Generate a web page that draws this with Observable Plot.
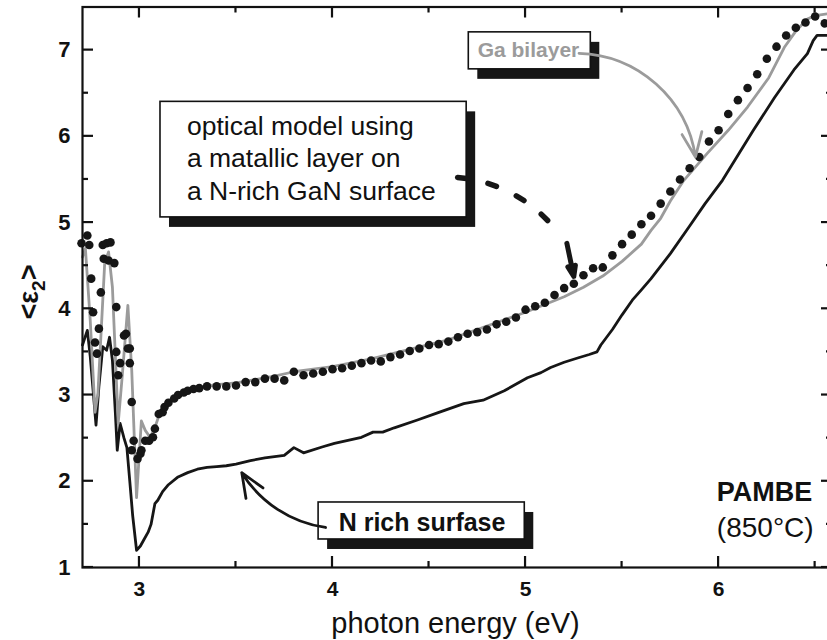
<!DOCTYPE html>
<html><head><meta charset="utf-8">
<script src="https://cdn.jsdelivr.net/npm/d3@7"></script>
<script src="https://cdn.jsdelivr.net/npm/@observablehq/plot@0.6"></script>
<style>
html,body{margin:0;padding:0;background:#fff;overflow:hidden;}
</style></head>
<body><div id="chart"></div>
<script>
// ---- data ----
const nRichX = [2.705,2.73,2.745,2.76,2.775,2.79,2.81,2.83,2.845,2.86,2.875,2.885,2.9,2.92,2.935,2.95,2.965,2.985,3.005,3.02,3.045,3.06,3.08,3.095,3.12,3.15,3.2,3.25,3.3,3.35,3.4,3.45,3.5,3.575,3.65,3.75,3.8,3.85,3.95,4.01,4.15,4.21,4.26,4.32,4.44,4.54,4.68,4.78,4.89,5.01,5.08,5.13,5.2,5.27,5.33,5.37,5.39,5.45,5.5,5.553,5.6,5.65,5.75,5.85,5.93,6.02,6.1,6.18,6.29,6.39,6.46,6.49,6.51,6.59];
const nRichY = [3.58,3.75,3.45,3.05,2.65,3.1,3.56,3.52,3.67,3.4,2.8,2.36,2.67,2.5,2.39,2.0,1.6,1.2,1.25,1.31,1.41,1.5,1.74,1.78,1.88,1.96,2.05,2.1,2.14,2.16,2.17,2.18,2.2,2.24,2.27,2.3,2.39,2.33,2.4,2.44,2.51,2.57,2.57,2.62,2.71,2.79,2.9,2.94,3.05,3.2,3.26,3.32,3.38,3.43,3.47,3.5,3.58,3.76,3.93,4.1,4.22,4.35,4.64,4.96,5.22,5.49,5.78,6.07,6.45,6.77,6.96,7.11,7.17,7.17];

const gaX = [2.705,2.72,2.745,2.77,2.785,2.82,2.84,2.86,2.89,2.91,2.94,2.96,2.985,3.01,3.03,3.055,3.08,3.105,3.15,3.2,3.3,3.4,3.5,3.6,3.7,3.8,3.9,4.0,4.2,4.4,4.6,4.8,5.0,5.1,5.2,5.3,5.4,5.5,5.6,5.65,5.7,5.75,5.82,5.94,6.05,6.15,6.26,6.34,6.4,6.46,6.5,6.59];
const gaY = [4.6,4.7,3.87,2.8,3.02,4.53,4.66,4.25,2.67,3.2,4.04,3.29,1.81,2.7,2.59,2.51,2.62,2.79,2.92,3.01,3.09,3.12,3.14,3.18,3.22,3.27,3.3,3.33,3.42,3.53,3.64,3.8,3.96,4.05,4.14,4.25,4.38,4.55,4.75,4.91,5.05,5.25,5.49,5.8,6.07,6.34,6.68,7.03,7.22,7.36,7.4,7.43];

const modelX = [2.70,2.73,2.74,2.75,2.76,2.77,2.78,2.79,2.80,2.81,2.815,2.83,2.84,2.85,2.87,2.88,2.88,2.89,2.90,2.92,2.93,2.94,2.95,2.95,2.96,2.96,2.97,2.99,3.005,3.01,3.03,3.05,3.07,3.08,3.10,3.12,3.13,3.15,3.18,3.20,3.23,3.25,3.28,3.31,3.35,3.40,3.45,3.50,3.55,3.60,3.65,3.70,3.75,3.80,3.85,3.90,3.95,4.00,4.05,4.10,4.15,4.20,4.25,4.30,4.35,4.40,4.45,4.50,4.55,4.60,4.65,4.70,4.75,4.80,4.85,4.90,4.95,5.00,5.05,5.10,5.15,5.20,5.25,5.30,5.35,5.40,5.45,5.50,5.55,5.60,5.65,5.70,5.75,5.80,5.85,5.90,5.95,6.00,6.05,6.10,6.15,6.20,6.25,6.30,6.35,6.40,6.45,6.50,6.55];
const modelY = [4.76,4.85,4.74,4.35,3.96,3.61,3.48,3.77,4.19,4.74,4.58,4.76,4.56,4.77,4.53,4.02,3.50,3.23,3.37,3.69,3.71,3.54,3.54,3.37,2.92,2.36,2.47,2.26,2.32,2.36,2.47,2.47,2.51,2.61,2.78,2.80,2.86,2.91,2.96,3.00,3.03,3.05,3.07,3.08,3.10,3.10,3.10,3.11,3.15,3.15,3.19,3.19,3.17,3.27,3.23,3.25,3.27,3.30,3.31,3.34,3.37,3.40,3.39,3.44,3.47,3.51,3.54,3.58,3.59,3.62,3.67,3.71,3.73,3.76,3.82,3.85,3.90,3.99,4.03,4.07,4.16,4.24,4.29,4.39,4.47,4.48,4.62,4.75,4.86,4.98,5.08,5.22,5.36,5.50,5.63,5.76,5.94,6.07,6.26,6.42,6.56,6.72,6.90,7.04,7.17,7.26,7.32,7.39,7.31];

const xMajor = [3, 4, 5, 6];
const xMinor = [3.5, 4.5, 5.5, 6.5];
const yMajor = [1, 2, 3, 4, 5, 6, 7];
const yMinor = [1.5, 2.5, 3.5, 4.5, 5.5, 6.5];
const xDomain = [2.705, 6.59];
const yDomain = [1, 7.5];

const xLabel = "photon energy (eV)";
const modelText = "optical model using\na matallic layer on\na N-rich GaN surface";
const gaText = "Ga bilayer";
const nText = "N rich surfase";
const pambeText = "PAMBE";
const tempText = "(850°C)";

// annotation layout (data coordinates)
const boxes = [
  {x1: 3.109, x2: 4.695, y1: 5.06, y2: 6.40},
  {x1: 4.706, x2: 5.338, y1: 6.777, y2: 7.206},
  {x1: 3.928, x2: 4.996, y1: 1.325, y2: 1.754}
];

const zip = (xs, ys) => xs.map((x, i) => ({x, y: ys[i]}));
const nRich = zip(nRichX, nRichY);
const gaBilayer = zip(gaX, gaY);
const model = zip(modelX, modelY);

const W = 827, H = 640, mL = 82, mR = -5, mT = 6.5, mB = 73;
const ink = "#161616";
const grey = "#9b9b9b";
const MAJ = 11, MIN = 6;

const chart = Plot.plot({
  width: W, height: H,
  marginLeft: mL, marginRight: mR, marginTop: mT, marginBottom: mB,
  x: {domain: xDomain},
  y: {domain: yDomain},
  style: {fontFamily: "'Liberation Sans', Arial, sans-serif", color: "#111", background: "#fff"},
  marks: [
    Plot.axisX({ticks: xMajor, tickSize: 0, tickPadding: 14, fontSize: 21, fontWeight: "bold", label: null, tickFormat: d => String(d)}),
    Plot.axisY({ticks: yMajor, tickSize: 0, tickPadding: 12, fontSize: 22, fontWeight: "bold", label: null, tickFormat: d => String(d)}),
    Plot.line(nRich, {x: "x", y: "y", stroke: ink, strokeWidth: 2.8, strokeLinejoin: "round"}),
    Plot.line(gaBilayer, {x: "x", y: "y", stroke: grey, strokeWidth: 2.8, strokeLinejoin: "round"}),
    Plot.dot(model, {x: "x", y: "y", r: 4.3, fill: ink, stroke: "none"}),
    Plot.frame({stroke: "#111", strokeWidth: 2.2}),
    Plot.text([xLabel], {frameAnchor: "bottom", lineAnchor: "bottom", dy: 65, dx: -2, fontSize: 29, fill: "#111"}),
    // annotation boxes with shadows
    Plot.rect(boxes, {x1: "x1", x2: "x2", y1: "y1", y2: "y2", fill: ink, dx: 9, dy: 10}),
    Plot.rect(boxes, {x1: "x1", x2: "x2", y1: "y1", y2: "y2", fill: "#fff", stroke: "#111", strokeWidth: 1.6}),
    Plot.text([modelText], {x: 3.246, y: 5.258, text: d => d, textAnchor: "start", lineAnchor: "bottom", lineHeight: 1.24, fontSize: 26.5, fill: "#111"}),
    Plot.text([gaText], {x: 4.752, y: 6.917, text: d => d, textAnchor: "start", lineAnchor: "bottom", fontSize: 21, fontWeight: "bold", fill: grey}),
    Plot.text([nText], {x: 4.032, y: 1.418, text: d => d, textAnchor: "start", lineAnchor: "bottom", fontSize: 25, fontWeight: "bold", fill: "#111"}),
    Plot.text([pambeText], {x: 5.991, y: 1.766, text: d => d, textAnchor: "start", lineAnchor: "bottom", fontSize: 27, fontWeight: "bold", fill: "#111"}),
    Plot.text([tempText], {x: 5.991, y: 1.348, text: d => d, textAnchor: "start", lineAnchor: "bottom", fontSize: 28, fill: "#111"}),
    // arrows
    Plot.arrow([0], {x1: 5.277, y1: 6.963, x2: 5.88, y2: 5.76, bend: 40, stroke: grey, strokeWidth: 2.8, headLength: 14, headAngle: 45}),
    Plot.arrow([0], {x1: 3.964, y1: 1.464, x2: 3.53, y2: 2.10, bend: 25, stroke: ink, strokeWidth: 2.8, headLength: 14, headAngle: 45}),
    Plot.arrow([0], {x1: 4.648, y1: 5.524, x2: 5.182, y2: 4.84, bend: 25, stroke: ink, strokeWidth: 5.5, strokeDasharray: "9 22", headLength: 0, strokeLinecap: "round"}),
    Plot.arrow([0], {x1: 5.214, y1: 4.759, x2: 5.25, y2: 4.376, stroke: ink, strokeWidth: 5, headLength: 16, headAngle: 40})
  ]
});

document.getElementById("chart").appendChild(chart);

const svgEl = chart.tagName.toLowerCase() === "svg" ? chart : chart.querySelector("svg");
const svg = d3.select(svgEl);
const sx = chart.scale("x"), sy = chart.scale("y");
const X = v => sx.apply(v), Y = v => sy.apply(v);
const xl = X(xDomain[0]), xr = X(xDomain[1]), yb = Y(yDomain[0]), yt = Y(yDomain[1]);

// inward ticks on all four sides, positioned through Plot's scales
const tg = svg.append("g").attr("stroke", "#111").attr("stroke-width", 2.2);
const addX = (vals, len) => vals.forEach(v => {
  tg.append("line").attr("x1", X(v)).attr("x2", X(v)).attr("y1", yb).attr("y2", yb - len);
  tg.append("line").attr("x1", X(v)).attr("x2", X(v)).attr("y1", yt).attr("y2", yt + len);
});
const addY = (vals, len) => vals.forEach(v => {
  tg.append("line").attr("y1", Y(v)).attr("y2", Y(v)).attr("x1", xl).attr("x2", xl + len);
  tg.append("line").attr("y1", Y(v)).attr("y2", Y(v)).attr("x1", xr).attr("x2", xr - len);
});
addX(xMajor, MAJ); addX(xMinor, MIN); addY(yMajor, MAJ); addY(yMinor, MIN);

// y-axis label with subscript
const yl = svg.append("text")
  .attr("transform", "translate(38,292) rotate(-90)")
  .attr("text-anchor", "middle")
  .attr("font-size", 27)
  .attr("font-weight", "bold")
  .attr("font-family", "'Liberation Sans', Arial, sans-serif")
  .attr("fill", "#111");
yl.append("tspan").text("<ε");
yl.append("tspan").attr("font-size", 19).attr("dy", 7).text("2");
yl.append("tspan").attr("dy", -7).text(">");
</script>
</body></html>
